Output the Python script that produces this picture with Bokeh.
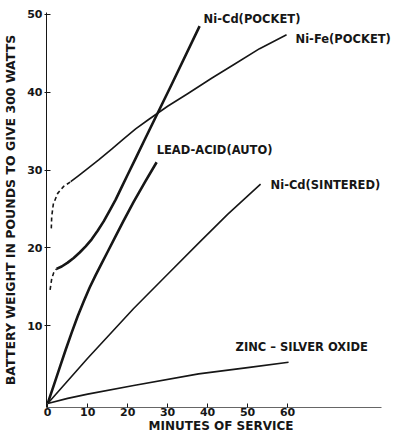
from bokeh.plotting import figure
from bokeh.models import Range1d, FixedTicker, ColumnDataSource, LabelSet
from bokeh.core.properties import value
from bokeh.embed import file_html
from bokeh.resources import INLINE

# ---- data (minutes of service -> battery weight in pounds) ----
x_ticks = [0, 10, 20, 30, 40, 50, 60]
y_ticks = [10, 20, 30, 40, 50]

nicd_pocket_dash_min = [0.6, 1.0, 1.5, 2.2]
nicd_pocket_dash_lb = [14.6, 16.0, 16.8, 17.3]
nicd_pocket_min = [2.2, 3.5, 5.0, 6.5, 8.0, 9.5, 11.0, 12.5, 14.0, 15.5, 17.0,
                   18.5, 20.0, 22.0, 24.25, 31.0, 38.0]
nicd_pocket_lb = [17.3, 17.6, 18.1, 18.7, 19.4, 20.2, 21.1, 22.2, 23.4, 24.8, 26.2,
                  27.8, 29.4, 31.5, 33.9, 41.0, 48.5]

nife_pocket_dash_min = [0.9, 1.0, 1.4, 2.5, 4.0, 5.75]
nife_pocket_dash_lb = [22.5, 24.0, 25.6, 27.0, 27.9, 28.5]
nife_pocket_min = [5.75, 7.5, 9.5, 12.75, 16.0, 19.0, 22.0, 25.25, 30.0, 35.0,
                   41.0, 47.0, 53.0, 59.75]
nife_pocket_lb = [28.5, 29.2, 30.0, 31.3, 32.7, 34.0, 35.3, 36.5, 38.2, 39.8,
                  41.8, 43.7, 45.6, 47.4]

lead_acid_min = [0, 1.5, 3, 4.5, 6, 7.5, 9, 10.5, 12, 13.5, 15, 17, 19, 21.5,
                 24.5, 27.25]
lead_acid_lb = [0, 2.3, 4.6, 6.9, 9.1, 11.2, 13.1, 14.9, 16.5, 18.0, 19.5, 21.5,
                23.5, 25.9, 28.6, 31.0]

nicd_sintered_min = [0, 10, 21.5, 30, 37.75, 45, 53.25]
nicd_sintered_lb = [0, 5.8, 12.2, 16.6, 20.6, 24.3, 28.2]

zinc_silver_min = [0, 5, 10, 21.5, 37.75, 50, 60.25]
zinc_silver_lb = [0, 0.65, 1.2, 2.3, 3.8, 4.6, 5.3]

label_text = ["Ni-Cd(POCKET)", "Ni-Fe(POCKET)", "LEAD-ACID(AUTO)",
              "Ni-Cd(SINTERED)", "ZINC – SILVER OXIDE"]
# label anchor positions (data units)
label_min = [39.0, 62.0, 27.25, 55.75, 47.0]
label_lb = [49.4, 46.8, 32.6, 28.1, 7.2]

FONT = "DejaVu Sans"
INK = "#161616"

p = figure(width=395, height=435, output_backend="svg", toolbar_location=None,
           x_range=Range1d(-0.3, 87.0), y_range=Range1d(-0.52, 50.25),
           min_border_left=46, min_border_right=0, min_border_top=12,
           min_border_bottom=5, background_fill_color="white",
           border_fill_color="white")
p.grid.visible = False
p.outline_line_color = None

thick = 2.6
thin = 1.6

p.line(nicd_pocket_dash_min, nicd_pocket_dash_lb, line_width=thin, color=INK,
       line_dash="4 3")
p.line(nicd_pocket_min, nicd_pocket_lb, line_width=thick, color=INK,
       line_join="round")
p.line(nife_pocket_dash_min, nife_pocket_dash_lb, line_width=thin, color=INK,
       line_dash="4 3")
p.line(nife_pocket_min, nife_pocket_lb, line_width=thin, color=INK,
       line_join="round")
p.line(lead_acid_min, lead_acid_lb, line_width=thick, color=INK,
       line_join="round")
p.line(nicd_sintered_min, nicd_sintered_lb, line_width=thin, color=INK,
       line_join="round")
p.line(zinc_silver_min, zinc_silver_lb, line_width=thin, color=INK,
       line_join="round")

src = ColumnDataSource(dict(x=label_min, y=label_lb, t=label_text))
labels = LabelSet(x="x", y="y", text="t", source=src, text_font=value(FONT),
                  text_font_size="11.5px", text_font_style="bold",
                  text_color=INK, text_baseline="middle", text_align="left")
p.add_layout(labels)

# axes
xa = p.xaxis[0]
xa.ticker = FixedTicker(ticks=x_ticks)
xa.bounds = (-0.3, 83.5)
xa.axis_label = "MINUTES OF SERVICE"
xa.major_tick_in = 4
xa.major_tick_out = 0
xa.minor_tick_line_color = None
xa.axis_line_color = "#666666"
xa.major_tick_line_color = INK
xa.major_label_standoff = 0
xa.axis_label_standoff = 0

ya = p.yaxis[0]
ya.ticker = FixedTicker(ticks=y_ticks)
ya.axis_label = "BATTERY WEIGHT IN POUNDS TO GIVE 300 WATTS"
ya.major_tick_in = 4
ya.major_tick_out = 2
ya.minor_tick_line_color = None
ya.axis_line_color = INK
ya.major_tick_line_color = INK
ya.major_label_standoff = 2
ya.axis_label_standoff = 6

for ax in (xa, ya):
    ax.major_label_text_font = FONT
    ax.major_label_text_font_size = "11px"
    ax.major_label_text_font_style = "bold"
    ax.major_label_text_color = INK
    ax.axis_label_text_font = FONT
    ax.axis_label_text_font_style = "bold"
    ax.axis_label_text_color = INK
xa.axis_label_text_font_size = "12px"
ya.axis_label_text_font_size = "12.5px"

open("out.html", "w").write(file_html(p, INLINE))
